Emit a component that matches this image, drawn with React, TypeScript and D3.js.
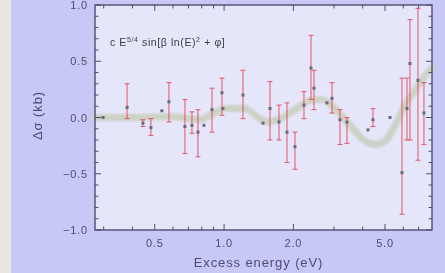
import { useRef, useEffect } from 'react';
import * as d3 from 'd3';

// measured points: excess energy (eV), delta sigma (kb), lower / upper end of error bar
const energy = [0.298, 0.379, 0.444, 0.481, 0.537, 0.576, 0.676, 0.725, 0.770, 0.818, 0.886, 0.979, 0.989, 1.208, 1.476, 1.583, 1.732, 1.876, 2.032, 2.223, 2.385, 2.457, 2.798, 2.942, 3.187, 3.418, 4.217, 4.433, 5.254, 5.924, 6.228, 6.417, 6.952, 7.382];
const deltaSigma = [0.0, 0.09, -0.05, -0.09, 0.06, 0.14, -0.08, -0.07, -0.13, -0.07, 0.07, 0.22, 0.08, 0.2, -0.05, 0.08, -0.04, -0.13, -0.26, 0.11, 0.44, 0.26, 0.13, 0.17, -0.02, -0.04, -0.11, -0.02, 0.0, -0.49, 0.08, 0.48, 0.33, 0.04];
const errLow = [-0.02, -0.01, -0.08, -0.16, 0.03, -0.04, -0.32, -0.14, -0.35, -0.09, -0.13, 0.02, 0.06, -0.01, -0.07, -0.2, -0.2, -0.4, -0.46, -0.01, 0.16, 0.07, 0.11, 0.04, -0.24, -0.23, -0.13, -0.08, -0.02, -0.86, -0.2, -0.2, -0.38, -0.24];
const errHigh = [0.02, 0.3, -0.02, -0.01, 0.08, 0.31, 0.16, 0.05, 0.07, -0.04, 0.26, 0.35, 0.1, 0.42, -0.03, 0.32, 0.11, 0.13, -0.13, 0.23, 0.73, 0.42, 0.15, 0.31, 0.07, 0.0, -0.09, 0.08, 0.02, 0.35, 0.35, 0.87, 0.97, 0.31];

// fitted curve
const fitEnergy = [0.275, 0.39, 0.582, 0.786, 0.886, 1.009, 1.232, 1.404, 1.551, 1.749, 2.032, 2.361, 2.662, 3.031, 3.522, 4.092, 4.522, 4.998, 5.524, 6.104, 6.747, 7.456, 7.997];
const fitValue = [0.0, 0.0, 0.01, -0.02, 0.03, 0.08, 0.08, 0.0, -0.04, -0.01, 0.07, 0.15, 0.16, 0.08, -0.07, -0.21, -0.24, -0.21, -0.07, 0.11, 0.24, 0.37, 0.44];

const xMajor = [0.5, 1.0, 2.0, 5.0];
const xMinor = [0.3, 0.4, 0.6, 0.7, 0.8, 0.9, 3, 4, 6, 7];
const yMajor = [-1.0, -0.5, 0.0, 0.5, 1.0];

function App() {
  const svgRef = useRef<SVGSVGElement>(null);

  useEffect(() => {
    const width = 445;
    const height = 273;
    const margin = { top: 5, right: 13, bottom: 43, left: 95 };
    const innerWidth = width - margin.left - margin.right;
    const innerHeight = height - margin.top - margin.bottom;
    const ink = '#4e4e6e';

    const root = d3.select(svgRef.current);
    root.selectAll('*').remove();
    root.attr('width', width).attr('height', height);

    const defs = root.append('defs');
    defs.append('filter').attr('id', 'soft')
      .append('feGaussianBlur').attr('stdDeviation', 0.6);
    defs.append('filter').attr('id', 'band')
      .append('feGaussianBlur').attr('stdDeviation', 1.3);

    const all = root.append('g').attr('filter', 'url(#soft)');
    all.append('rect').attr('width', width).attr('height', height).attr('fill', '#c8c8f6');
    all.append('rect').attr('width', 11).attr('height', height).attr('fill', '#e8e6de');

    const svg = all.append('g').attr('transform', `translate(${margin.left},${margin.top})`);

    const x = d3.scaleLog().domain([0.275, 8]).range([0, innerWidth]);
    const y = d3.scaleLinear().domain([-1, 1]).range([innerHeight, 0]);

    svg.append('rect').attr('width', innerWidth).attr('height', innerHeight).attr('fill', '#e6e6fb');

    // fit band
    const line = d3.line<number>()
      .x((_, i) => x(fitEnergy[i]))
      .y(d => y(d))
      .curve(d3.curveMonotoneX);
    svg.append('path')
      .datum(fitValue)
      .attr('d', line)
      .attr('fill', 'none')
      .attr('stroke', '#cdd2c7')
      .attr('stroke-width', 7)
      .attr('stroke-linecap', 'round')
      .attr('filter', 'url(#band)');

    // error bars
    const pts = energy.map((e, i) => ({ e, v: deltaSigma[i], lo: errLow[i], hi: errHigh[i] }));
    const bars = svg.append('g').attr('stroke', '#e2404f').attr('stroke-width', 1.1).attr('opacity', 0.8);
    pts.forEach(p => {
      if (p.hi - p.lo < 0.06) return;
      const cx = x(p.e);
      bars.append('line').attr('x1', cx).attr('x2', cx).attr('y1', y(p.hi)).attr('y2', y(p.lo));
      bars.append('line').attr('x1', cx - 2.5).attr('x2', cx + 2.5).attr('y1', y(p.hi)).attr('y2', y(p.hi));
      bars.append('line').attr('x1', cx - 2.5).attr('x2', cx + 2.5).attr('y1', y(p.lo)).attr('y2', y(p.lo));
    });
    svg.append('g').selectAll('rect')
      .data(pts)
      .enter()
      .append('rect')
      .attr('x', d => x(d.e) - 1.5)
      .attr('y', d => y(d.v) - 1.5)
      .attr('width', 3)
      .attr('height', 3)
      .attr('fill', '#6a6a7a');

    // frame and ticks
    svg.append('rect').attr('width', innerWidth).attr('height', innerHeight)
      .attr('fill', 'none').attr('stroke', ink).attr('stroke-width', 1.4);

    const ticks = svg.append('g').attr('stroke', ink).attr('stroke-width', 1);
    xMajor.concat(xMinor).forEach(v => {
      const len = xMajor.includes(v) ? 6 : 3.5;
      ticks.append('line').attr('x1', x(v)).attr('x2', x(v)).attr('y1', innerHeight).attr('y2', innerHeight - len);
      ticks.append('line').attr('x1', x(v)).attr('x2', x(v)).attr('y1', 0).attr('y2', len);
    });
    d3.range(-10, 11).forEach(k => {
      const v = k / 10;
      const len = k % 5 === 0 ? 6 : 3.5;
      ticks.append('line').attr('x1', 0).attr('x2', len).attr('y1', y(v)).attr('y2', y(v));
      ticks.append('line').attr('x1', innerWidth).attr('x2', innerWidth - len).attr('y1', y(v)).attr('y2', y(v));
    });

    const font = 'Liberation Sans, Arial, sans-serif';
    svg.append('g').selectAll('text')
      .data(xMajor)
      .enter()
      .append('text')
      .attr('x', d => x(d))
      .attr('y', innerHeight + 17)
      .attr('text-anchor', 'middle')
      .attr('font-family', font)
      .attr('font-size', 11)
      .attr('letter-spacing', 0.8)
      .attr('fill', ink)
      .text(d => d.toFixed(1));
    svg.append('g').selectAll('text')
      .data(yMajor)
      .enter()
      .append('text')
      .attr('x', -7)
      .attr('y', d => y(d) + 4)
      .attr('text-anchor', 'end')
      .attr('font-family', font)
      .attr('font-size', 11)
      .attr('letter-spacing', 0.8)
      .attr('fill', ink)
      .text(d => (d < 0 ? '\u2212' : '') + Math.abs(d).toFixed(1));

    svg.append('text')
      .attr('x', innerWidth / 2 - 5)
      .attr('y', innerHeight + 37)
      .attr('text-anchor', 'middle')
      .attr('font-family', font)
      .attr('font-size', 13)
      .attr('letter-spacing', 0.9)
      .attr('fill', ink)
      .text('Excess energy (eV)');

    svg.append('text')
      .attr('transform', `translate(${42 - margin.left},${innerHeight / 2 - 2}) rotate(-90)`)
      .attr('text-anchor', 'middle')
      .attr('font-family', font)
      .attr('font-size', 13)
      .attr('letter-spacing', 0.9)
      .attr('fill', ink)
      .text('\u0394\u03c3 (kb)');

    const ann = svg.append('text')
      .attr('x', 15)
      .attr('y', 41)
      .attr('font-family', font)
      .attr('font-size', 10.5)
      .attr('letter-spacing', 0.6)
      .attr('fill', '#3a3a4c');
    ann.append('tspan').text('c E');
    ann.append('tspan').attr('dy', -4).attr('font-size', 7).text('5/4');
    ann.append('tspan').attr('dy', 4).text(' sin[\u03b2 ln(E)');
    ann.append('tspan').attr('dy', -4).attr('font-size', 7).text('2');
    ann.append('tspan').attr('dy', 4).text(' + \u03c6]');
  }, []);

  return (
    <div style={{ position: 'fixed', left: 0, top: 0 }}>
      <svg ref={svgRef}></svg>
    </div>
  );
}

export default App;
